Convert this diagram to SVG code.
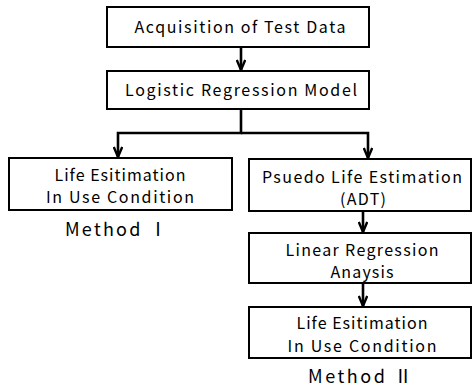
<svg xmlns="http://www.w3.org/2000/svg" width="472" height="389" viewBox="0 0 472 389">
  <defs>
    <marker id="arrow" viewBox="0 0 12 10" refX="11" refY="5" markerWidth="12" markerHeight="10" markerUnits="userSpaceOnUse" orient="auto">
      <path d="M1,0.8 L11,5 L1,9.2" fill="none" stroke="#000" stroke-width="2.4"/>
    </marker>
  </defs>
  <style>
    .box { fill: #fff; stroke: #000; stroke-width: 2; }
    .lbl { font-family: "Noto Sans CJK KR", "Noto Sans", sans-serif; font-size: 16px; fill: #000; text-anchor: middle; }
    .method { font-family: "Noto Sans CJK KR", "Noto Sans", sans-serif; font-size: 18px; fill: #000; text-anchor: middle; }
    .conn { fill: none; stroke: #000; stroke-width: 2.6; }
  </style>
  <rect width="472" height="389" fill="#fff"/>

  <g id="connectors">
    <path class="conn" d="M241,47 V70" marker-end="url(#arrow)"/>
    <path class="conn" d="M241,109 V133 H118 V157" marker-end="url(#arrow)"/>
    <path class="conn" d="M241,133 H368 V158" marker-end="url(#arrow)"/>
    <path class="conn" d="M363,211 V232" marker-end="url(#arrow)"/>
    <path class="conn" d="M363,283 V306" marker-end="url(#arrow)"/>
  </g>

  <g id="acquisition">
    <rect class="box" x="107" y="7" width="262" height="40"/>
    <text class="lbl" x="240" y="33" textLength="211" lengthAdjust="spacing">Acquisition of Test Data</text>
  </g>

  <g id="logistic">
    <rect class="box" x="107" y="71" width="262" height="38"/>
    <text class="lbl" x="241" y="96" textLength="232" lengthAdjust="spacing">Logistic Regression Model</text>
  </g>

  <g id="life-est-1">
    <rect class="box" x="9" y="158" width="223" height="52"/>
    <text class="lbl" x="120" y="181" textLength="131" lengthAdjust="spacing">Life Esitimation</text>
    <text class="lbl" x="120" y="203" textLength="148" lengthAdjust="spacing">In Use Condition</text>
  </g>

  <g id="method-1">
    <text class="method" x="116" y="236" textLength="102" lengthAdjust="spacing">Method Ⅰ</text>
  </g>

  <g id="pseudo-life">
    <rect class="box" x="249" y="159" width="222" height="52"/>
    <text class="lbl" x="362" y="183" textLength="200" lengthAdjust="spacing">Psuedo Life Estimation</text>
    <text class="lbl" x="363" y="205" textLength="46" lengthAdjust="spacing">(ADT)</text>
  </g>

  <g id="linear-regression">
    <rect class="box" x="249" y="233" width="222" height="50"/>
    <text class="lbl" x="362" y="256" textLength="153" lengthAdjust="spacing">Linear Regression</text>
    <text class="lbl" x="362" y="278" textLength="63" lengthAdjust="spacing">Anaysis</text>
  </g>

  <g id="life-est-2">
    <rect class="box" x="249" y="307" width="222" height="51"/>
    <text class="lbl" x="362" y="329" textLength="131" lengthAdjust="spacing">Life Esitimation</text>
    <text class="lbl" x="362" y="352" textLength="149" lengthAdjust="spacing">In Use Condition</text>
  </g>

  <g id="method-2">
    <text class="method" x="360" y="383" textLength="104" lengthAdjust="spacing">Method Ⅱ</text>
  </g>
</svg>
